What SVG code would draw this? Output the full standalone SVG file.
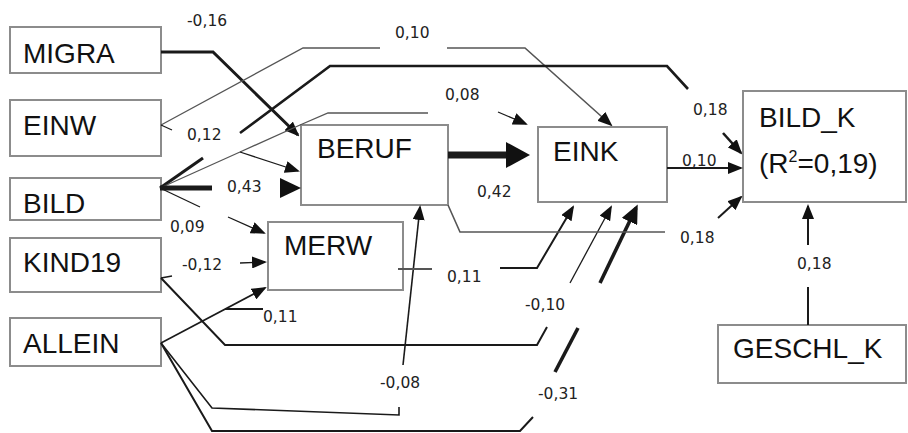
<svg xmlns="http://www.w3.org/2000/svg" width="908" height="433" viewBox="0 0 908 433">
<defs>
<style>
.box{fill:#fff;stroke:#8c8c8c;stroke-width:2}
.nt{font-family:"Liberation Sans",Arial,sans-serif;font-size:28px;fill:#111}
.lb{font-family:"DejaVu Sans",sans-serif;font-size:15.5px;fill:#222}
.c{fill:none;stroke:#1a1a1a;stroke-linejoin:miter}
.g{stroke:#555}
.t1{stroke-width:1.3}
.t15{stroke-width:1.6}
.t2{stroke-width:2}
.t25{stroke-width:2.6}
.t3{stroke-width:3}
.t35{stroke-width:3.6}
.t5{stroke-width:5}
.t7{stroke-width:7}
.ah{marker-end:url(#ah)}
</style>
<marker id="ah" markerUnits="userSpaceOnUse" markerWidth="15" markerHeight="12" refX="13" refY="6" orient="auto"><path d="M0,0 L15,6 L0,12 z" fill="#111"/></marker>
<marker id="ahM" markerUnits="userSpaceOnUse" markerWidth="19" markerHeight="17" refX="15" refY="8.5" orient="auto"><path d="M0,0 L19,8.5 L0,17 z" fill="#111"/></marker>
<marker id="ahL" markerUnits="userSpaceOnUse" markerWidth="24" markerHeight="26" refX="0" refY="13" orient="auto"><path d="M0,0 L24,13 L0,26 z" fill="#111"/></marker>
</defs>
<rect width="908" height="433" fill="#fff"/>

<g id="MIGRA"><rect class="box" x="10" y="27" width="151" height="46"/><text class="nt" x="23" y="63">MIGRA</text></g>
<g id="EINW"><rect class="box" x="10" y="100" width="151" height="56"/><text class="nt" x="23" y="135">EINW</text></g>
<g id="BILD"><rect class="box" x="10" y="178" width="151" height="42"/><text class="nt" x="23" y="213">BILD</text></g>
<g id="KIND19"><rect class="box" x="10" y="238" width="151" height="54"/><text class="nt" x="23" y="272">KIND19</text></g>
<g id="ALLEIN"><rect class="box" x="10" y="318" width="151" height="48"/><text class="nt" x="23" y="353">ALLEIN</text></g>
<g id="BERUF"><rect class="box" x="301" y="125" width="147" height="80"/><text class="nt" x="317" y="158">BERUF</text></g>
<g id="MERW"><rect class="box" x="268" y="222" width="135" height="68"/><text class="nt" x="284" y="255">MERW</text></g>
<g id="EINK"><rect class="box" x="538" y="127" width="129" height="75"/><text class="nt" x="553" y="161">EINK</text></g>
<g id="BILD_K"><rect class="box" x="743" y="91" width="163" height="111"/><text class="nt" x="759" y="127">BILD_K</text><text class="nt" x="759" y="173">(R<tspan font-size="16" dy="-11">2</tspan><tspan dy="11">=0,19)</tspan></text></g>
<g id="GESCHL_K"><rect class="box" x="718" y="325" width="188" height="58"/><text class="nt" x="733" y="358">GESCHL_K</text></g>

<g id="connectors">
<!-- MIGRA -> BERUF -->
<path class="c t3" d="M161,52 L213,52 L298,135" marker-end="url(#ah)"/>
<text class="lb" x="187" y="26">-0,16</text>
<!-- EINW -> EINK -->
<path class="c t1 g" d="M161,125 L303,48 L380,48"/>
<path class="c t1" d="M161,125 L172,130"/>
<path class="c t15 g" d="M447,48 L525,48 L611,125" marker-end="url(#ah)"/>
<text class="lb" x="395" y="38">0,10</text>
<!-- BILD -> BILD_K -->
<path class="c t3" d="M160,188 L203,158"/>
<path class="c t25" d="M240,133 L322,72 L330,66 L667,66 L688,89"/>
<path class="c t25" d="M723,133 L741,153" marker-end="url(#ah)"/>
<text class="lb" x="693" y="115">0,18</text>
<text class="lb" x="187" y="140">0,12</text>
<!-- BILD -> EINK -->
<path class="c t1 g" d="M160,188 L240,152 L300,125 L328,113 L428,113"/>
<path class="c t1" d="M498,112 L526,124" marker-end="url(#ah)"/>
<text class="lb" x="445" y="100">0,08</text>
<!-- BILD -> BERUF (thin) -->
<path class="c t1" d="M240,152 L298,171" marker-end="url(#ah)"/>
<!-- BILD -> BERUF 0,43 -->
<path class="c t5" d="M160,188 L212,188"/>
<path d="M280,178 L301,188 L280,198 z" fill="#111"/>
<text class="lb" x="227" y="192">0,43</text>
<!-- BILD -> MERW -->
<path class="c t1" d="M160,188 L200,207"/>
<path class="c t1" d="M228,217 L264,233" marker-end="url(#ah)"/>
<text class="lb" x="170" y="232">0,09</text>
<!-- KIND19 -> MERW -->
<path class="c t1" d="M240,263 L265,262" marker-end="url(#ah)"/>
<text class="lb" x="182" y="270">-0,12</text>
<!-- KIND19 -> EINK -->
<path class="c t2" d="M161,278 L225,345 L537,345 L547,327"/>
<path class="c t1" d="M161,278 L172,276"/>
<path class="c t1" d="M570,283 L611,207" marker-end="url(#ah)"/>
<text class="lb" x="525" y="310">-0,10</text>
<!-- ALLEIN -> MERW -->
<path class="c t15" d="M161,343 L265,288" marker-end="url(#ah)"/>
<path class="c t2" d="M225,309 L263,309"/>
<text class="lb" x="263" y="322">0,11</text>
<!-- ALLEIN -> BERUF -->
<path class="c t15" d="M161,343 L212,408 L399,415 L399,407"/>
<path class="c t15" d="M403,365 L420,207" marker-end="url(#ah)"/>
<text class="lb" x="380" y="388">-0,08</text>
<!-- ALLEIN -> EINK -->
<path class="c t2" d="M161,343 L212,431 L520,431 L533,417"/>
<path class="c t35" d="M555,372 L578,328"/>
<path class="c t35" d="M600,283 L636,208" marker-end="url(#ahM)"/>
<text class="lb" x="538" y="399">-0,31</text>
<!-- MERW -> EINK -->
<path class="c t2 g" d="M398,269 L432,269"/>
<path class="c t2" d="M500,268 L537,268 L573,207" marker-end="url(#ah)"/>
<text class="lb" x="447" y="282">0,11</text>
<!-- BERUF -> EINK -->
<path class="c t7" d="M448,155 L506,155" marker-end="url(#ahL)"/>
<text class="lb" x="477" y="197">0,42</text>
<!-- BERUF -> BILD_K -->
<path class="c t15 g" d="M448,205 L460,232 L665,232"/>
<path class="c t2" d="M718,218 L741,197" marker-end="url(#ah)"/>
<text class="lb" x="680" y="243">0,18</text>
<!-- EINK -> BILD_K -->
<path class="c t2" d="M667,168 L741,168" marker-end="url(#ah)"/>
<text class="lb" x="682" y="166">0,10</text>
<!-- GESCHL_K -> BILD_K -->
<path class="c t2" d="M808,325 L808,287"/>
<path class="c t2" d="M808,245 L808,206" marker-end="url(#ah)"/>
<text class="lb" x="797" y="269">0,18</text>
</g>
</svg>
